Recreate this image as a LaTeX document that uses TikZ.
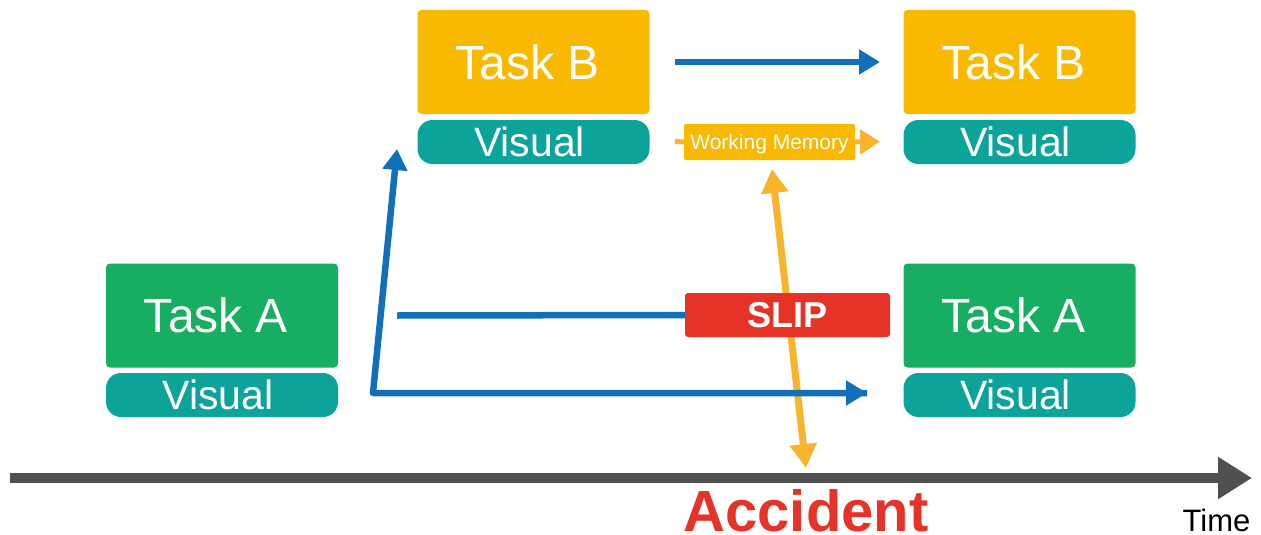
\documentclass[tikz,border=0pt]{standalone}
\usepackage{fontspec}
\setmainfont{Liberation Sans}
\usetikzlibrary{arrows.meta}
\definecolor{taskb}{HTML}{F8B900}
\definecolor{visualc}{HTML}{0BA39A}
\definecolor{taska}{HTML}{18AE62}
\definecolor{blueline}{HTML}{1270BA}
\definecolor{slipred}{HTML}{E53328}
\definecolor{orangeline}{HTML}{F6B52D}
\definecolor{axisgray}{HTML}{505050}
\tikzset{
  taskbox/.style={rounded corners=4pt, minimum width=232pt, minimum height=104pt, inner sep=0pt, text=white, font=\fontsize{48}{48}\selectfont},
  visbox/.style={rounded corners=15pt, minimum width=232pt, minimum height=44pt, inner sep=0pt, fill=visualc, text=white, font=\fontsize{41}{41}\selectfont},
  bluearrow/.style={draw=blueline, line width=6.5pt, line join=round, -{Triangle[length=21pt,width=24pt]}},
  wmbox/.style={rounded corners=2pt, fill=taskb, minimum width=171pt, minimum height=36pt, inner sep=0pt, text=white, text depth=0pt, font=\fontsize{21}{21}\selectfont},
  sliplabel/.style={rounded corners=3pt, fill=slipred, minimum width=205pt, minimum height=44pt, inner sep=0pt, text=white, font=\fontsize{36}{36}\selectfont\bfseries}
}
\begin{document}
\begin{tikzpicture}[x=1pt,y=-1pt]
\useasboundingbox (0,0) rectangle (1261,535);

% boxes
\node[taskbox, fill=taskb] (tbl) at (533.5,62) {Task B\kern12pt};
\node[visbox] (vbl) at (533.5,142) {Visual\kern8pt};
\node[taskbox, fill=taskb] (tbr) at (1019.5,62) {Task B\kern12pt};
\node[visbox] (vbr) at (1019.5,142) {Visual\kern8pt};
\node[taskbox, fill=taska] (tal) at (222,315.5) {Task A\kern12pt};
\node[visbox] (val) at (222,395) {Visual\kern8pt};
\node[taskbox, fill=taska] (tar) at (1019.5,315.5) {Task A\kern12pt};
\node[visbox] (var) at (1019.5,395) {Visual\kern8pt};

% coordinates
\coordinate (topA) at (675,62);
\coordinate (topB) at (880,62);
\coordinate (wmL) at (675,141.5);
\coordinate (wmR) at (880,141.5);
\coordinate (oTop) at (772,169);
\coordinate (oBot) at (806,468);
\coordinate (midL) at (397,315.5);
\coordinate (bCorner) at (373,393);
\coordinate (bUp) at (397,149);
\coordinate (bRight) at (867,393);
\coordinate (tStart) at (10,478);
\coordinate (tEnd) at (1252,478);

% time axis
\draw[draw=axisgray, line width=10pt, -{Triangle[length=34pt,width=40pt]}] (tStart) -- (tEnd);

% orange double arrow
\draw[draw=orangeline, line width=7pt, {Triangle[length=24pt,width=26pt]}-{Triangle[length=24pt,width=26pt]}] (oTop) -- (oBot);

% working memory
\node[wmbox] (wm) at (769.5,142) {Working Memory};
\draw[draw=orangeline, line width=5pt] (wmL) -- (wm.west);
\draw[draw=orangeline, line width=5pt, -{Triangle[length=20pt,width=24pt]}] (wm.east) -- (wmR);

% slip
\node[sliplabel] (slip) at (787.5,315) {SLIP};

% blue arrows
\draw[bluearrow] (topA) -- (topB);
\draw[draw=blueline, line width=6.5pt] (midL) -- (slip.west);
\draw[bluearrow] (bRight) -- (bCorner) -- (bUp);
\draw[draw=blueline, line width=6.5pt, -{Triangle[length=21pt,width=24pt]}] (bCorner) -- (bRight);

% labels
\node[anchor=base, text=slipred, font=\fontsize{58}{58}\selectfont\bfseries, inner sep=0pt, text depth=0pt] (acc) at (806,531) {Accident};
\node[anchor=base, text=black, font=\fontsize{31}{31}\selectfont, inner sep=0pt, text depth=0pt] (time) at (1216.5,531) {Time};
\end{tikzpicture}
\end{document}
